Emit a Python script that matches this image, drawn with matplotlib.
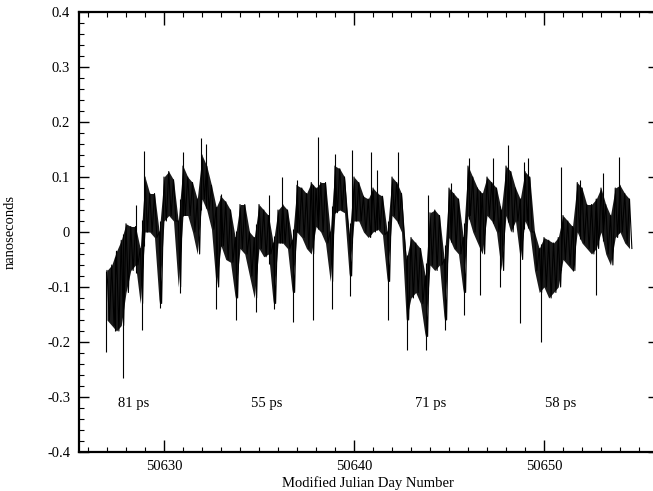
import numpy as np
import matplotlib
matplotlib.use("Agg")
import matplotlib.pyplot as plt
from matplotlib.ticker import MultipleLocator

plt.rcParams['font.family'] = ['Liberation Serif', 'DejaVu Serif']

# dense band of the clock residuals, read every quarter day (MJD, ns)
mjd = np.arange(50627.0, 50654.51, 0.25)
band_hi = [-0.07, -0.06, -0.035, -0.015, 0.015, 0.01, 0.01, -0.03,
           0.10, 0.07, 0.07, 0.0, 0.10, 0.11, 0.095, 0.02,
           0.12, 0.10, 0.09, 0.06, 0.14, 0.12, 0.085, 0.045,
           0.065, 0.055, 0.04, -0.01, 0.05, 0.05, 0.0, -0.01,
           0.05, 0.04, 0.03, -0.02, 0.04, 0.05, 0.04, -0.015,
           0.085, 0.08, 0.07, 0.09, 0.08, 0.09, 0.09, 0.0,
           0.12, 0.115, 0.10, -0.005, 0.10, 0.09, 0.065, 0.06,
           0.08, 0.07, 0.065, 0.0, 0.10, 0.09, 0.07, -0.05,
           -0.01, -0.02, -0.03, -0.08, 0.035, 0.04, 0.03, -0.05,
           0.08, 0.07, 0.06, -0.01, 0.12, 0.10, 0.08, 0.07,
           0.10, 0.09, 0.08, 0.04, 0.12, 0.11, 0.08, 0.06,
           0.11, 0.10, 0.0, -0.03, -0.01, -0.015, -0.02, -0.01,
           0.03, 0.02, 0.01, 0.09, 0.08, 0.05, 0.05, 0.06,
           0.08, 0.05, 0.03, 0.08, 0.085, 0.07, 0.06]
band_lo = [-0.16, -0.17, -0.18, -0.17, -0.11, -0.07, -0.06, -0.13,
           0.0, 0.0, -0.01, -0.13, 0.02, 0.03, 0.02, -0.10,
           0.03, 0.03, 0.0, -0.04, 0.06, 0.04, 0.005, -0.10,
           -0.025, -0.05, -0.055, -0.12, -0.03, -0.04, -0.08, -0.12,
           -0.03, -0.045, -0.04, -0.13, -0.02, -0.02, -0.03, -0.11,
           0.0, -0.01, -0.03, -0.04, 0.01, 0.0, -0.02, -0.09,
           0.035, 0.04, 0.035, -0.08, 0.02, 0.02, 0.0, -0.01,
           0.0, 0.005, -0.005, -0.09, 0.03, 0.02, 0.0, -0.16,
           -0.12, -0.11, -0.13, -0.19, -0.06, -0.07, -0.06, -0.16,
           -0.01, -0.03, -0.04, -0.11, 0.03, 0.0, -0.02, -0.04,
           0.03, 0.02, 0.0, -0.07, 0.03, 0.0, 0.02, -0.05,
           0.02, 0.0, -0.07, -0.11, -0.10, -0.12, -0.11, -0.10,
           -0.05, -0.06, -0.07, 0.0, -0.02, -0.03, -0.04, -0.03,
           0.0, -0.04, -0.06, -0.01, 0.0, -0.02, -0.03]

# isolated excursions outside the band
spike_up_t = [50628.55, 50628.95, 50631.0, 50631.95, 50632.2, 50633.0,
              50635.55, 50636.2, 50637.0, 50638.1, 50639.0, 50639.9,
              50640.9, 50641.2, 50642.3, 50643.9, 50645.1, 50646.05,
              50647.3, 50648.1, 50648.95, 50649.15, 50650.9, 50651.9,
              50653.1, 50653.95]
spike_up_v = [0.05, 0.148, 0.146, 0.171, 0.16, 0.07,
              0.067, 0.10, 0.095, 0.173, 0.142, 0.15,
              0.146, 0.113, 0.146, 0.067, 0.09, 0.134,
              0.134, 0.158, 0.128, 0.134, 0.118, 0.095,
              0.108, 0.137]
spike_dn_t = [50626.95, 50627.4, 50627.85, 50628.85, 50629.8, 50630.85,
              50632.75, 50633.8, 50634.85, 50635.8, 50636.8, 50637.85,
              50638.85, 50639.8, 50641.8, 50642.8, 50643.8, 50644.8,
              50645.8, 50646.65, 50647.7, 50648.75, 50649.85, 50651.5,
              50652.75]
spike_dn_v = [-0.218, -0.18, -0.265, -0.178, -0.138, -0.111,
              -0.14, -0.16, -0.145, -0.14, -0.163, -0.16,
              -0.14, -0.117, -0.16, -0.215, -0.215, -0.178,
              -0.15, -0.115, -0.10, -0.165, -0.2, -0.07,
              -0.115]

labels = ["81 ps", "55 ps", "71 ps", "58 ps"]
label_t = [50628.4, 50635.4, 50644.05, 50650.9]

fig = plt.figure(figsize=(6.53, 4.91), dpi=100)
ax = fig.add_axes([78.5 / 653, 39 / 491, 579.5 / 653, 440 / 491])

hi = np.array(band_hi)
lo = np.array(band_lo)
ax.fill_between(mjd, lo, hi, color='#1a1a1a', lw=0)

# zigzag between the band edges to give the noisy look
zz_t = np.empty(2 * len(mjd))
zz_v = np.empty(2 * len(mjd))
zz_t[0::2] = mjd
zz_t[1::2] = mjd + 0.125
zz_v[0::2] = hi
zz_v[1::2] = lo
ax.plot(zz_t, zz_v, color='black', lw=0.8)

ax.vlines(spike_up_t, np.interp(spike_up_t, mjd, lo), spike_up_v, color='black', lw=0.8)
ax.vlines(spike_dn_t, spike_dn_v, np.interp(spike_dn_t, mjd, hi), color='black', lw=0.8)

for txt, t in zip(labels, label_t):
    ax.text(t, -0.311, txt, ha='center', va='center', fontsize=10.5)

ax.set_xlim(50625.5, 50656)
ax.set_ylim(-0.4, 0.4)
ax.xaxis.set_major_locator(MultipleLocator(10))
ax.xaxis.set_minor_locator(MultipleLocator(1))
ax.yaxis.set_major_locator(MultipleLocator(0.1))
ax.yaxis.set_minor_locator(MultipleLocator(0.02))
ax.set_yticklabels([])
yt = np.arange(-0.4, 0.41, 0.1)
ax.set_yticks(yt)
ax.set_yticklabels(['0' if abs(v) < 1e-9 else f'{v:.1f}' for v in yt])
ax.tick_params(which='both', direction='in', top=True, right=True, labelsize=10.5)
ax.tick_params(which='major', length=7, width=1)
ax.tick_params(which='minor', length=3.5, width=0.8)
ax.tick_params(axis='x', which='major', length=9, pad=6)
ax.tick_params(axis='y', pad=6)
for s in ax.spines.values():
    s.set_linewidth(1.6)

ax.set_xlabel('Modified Julian Day Number', fontsize=10.5, labelpad=2)
ax.set_ylabel('nanoseconds', fontsize=10.5, labelpad=22)

fig.savefig('out.png', dpi=100)
